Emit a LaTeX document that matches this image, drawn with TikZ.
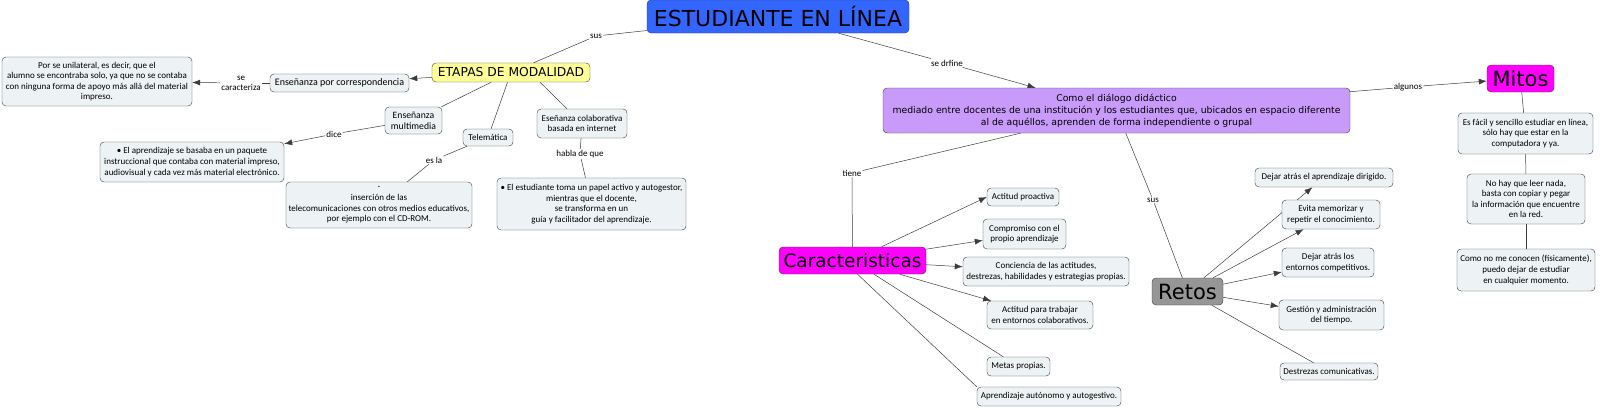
\documentclass[tikz,border=0pt]{standalone}
\usepackage{fontspec}
\setmainfont{Carlito}
\newfontfamily\verd{DejaVu Sans}
\usetikzlibrary{arrows.meta,backgrounds}

\definecolor{azul}{RGB}{51,102,255}
\definecolor{amarillo}{RGB}{255,255,153}
\definecolor{lila}{RGB}{200,155,250}
\definecolor{fucsia}{RGB}{255,0,255}
\definecolor{gris}{RGB}{150,150,150}
\definecolor{celeste}{RGB}{237,243,244}
\definecolor{borde}{RGB}{60,60,60}

\begin{document}
\begin{tikzpicture}[x=1pt,y=-1pt,
  caja/.style={draw=borde,rounded corners=4pt,align=center,inner sep=2pt},
  concepto/.style={caja,font=\verd\fontsize{21}{24}\selectfont},
  idea/.style={caja,fill=celeste,font=\fontsize{9}{10.6}\selectfont},
  enlace/.style={inner sep=1pt,align=center,font=\fontsize{9}{10}\selectfont},
  linea/.style={draw=borde,line width=0.5pt},
  flecha/.style={linea,-{Latex[length=8pt,width=6pt]}}]

\useasboundingbox (0,0) rectangle (1600,408);

% conceptos principales
\node[concepto,fill=azul,font=\verd\fontsize{22}{26}\selectfont,minimum width=262pt,minimum height=33pt] (est) at (778,16.5) {ESTUDIANTE EN LÍNEA};
\node[concepto,fill=amarillo,font=\verd\fontsize{12.3}{14}\selectfont,minimum width=158pt,minimum height=19pt] (etapas) at (511,72.5) {ETAPAS DE MODALIDAD};
\node[concepto,fill=lila,font=\verd\fontsize{9.3}{12}\selectfont,minimum width=467pt,minimum height=45pt] (dialogo) at (1116.5,110.5) {Como el diálogo didáctico\\mediado entre docentes de una institución y los estudiantes que, ubicados en espacio diferente\\al de aquéllos, aprenden de forma independiente o grupal};
\node[concepto,fill=fucsia,minimum width=67pt,minimum height=27pt] (mitos) at (1520.5,78.5) {Mitos};
\node[concepto,fill=fucsia,font=\verd\fontsize{18.5}{22}\selectfont,minimum width=147pt,minimum height=27pt] (car) at (852.5,260.5) {Caracteristicas};
\node[concepto,fill=gris,minimum width=71pt,minimum height=27pt] (retos) at (1187.5,291.5) {Retos};

% etapas
\node[idea,font=\fontsize{10}{11}\selectfont,minimum width=139pt,minimum height=18pt] (corr) at (339.5,83) {Enseñanza por correspondencia};
\node[idea,minimum width=190pt,minimum height=49pt] (porse) at (97,81.5) {Por se unilateral, es decir, que el\\alumno se encontraba solo, ya que no se contaba\\con ninguna forma de apoyo más allá del material\\impreso.};
\node[idea,font=\fontsize{9.7}{11}\selectfont,minimum width=57pt,minimum height=27pt] (multi) at (413.5,120.5) {Enseñanza\\multimedia};
\node[idea,minimum width=184pt,minimum height=40pt] (paquete) at (192,162) {• El aprendizaje se basaba en un paquete\\instruccional que contaba con material impreso,\\audiovisual y cada vez más material electrónico.};
\node[idea,minimum width=50pt,minimum height=17pt] (tele) at (488,137.5) {Telemática};
\node[idea,minimum width=186pt,minimum height=46pt] (insercion) at (379,205) {·\\inserción de las\\telecomunicaciones con otros medios educativos,\\por ejemplo con el CD-ROM.};
\node[idea,minimum width=90pt,minimum height=29pt] (colab) at (582,123.5) {Eseñanza colaborativa\\basada en internet};
\node[idea,minimum width=189pt,minimum height=52pt] (activo) at (591.5,204) {• El estudiante toma un papel activo y autogestor,\\mientras que el docente,\\se transforma en un\\guía y facilitador del aprendizaje.};

% mitos
\node[idea,minimum width=135pt,minimum height=41pt] (m1) at (1525.5,133.5) {Es fácil y sencillo estudiar en línea,\\sólo hay que estar en la\\computadora y ya.};
\node[idea,minimum width=118pt,minimum height=50pt] (m2) at (1526,199) {No hay que leer nada,\\basta con copiar y pegar\\la información que encuentre\\en la red.};
\node[idea,minimum width=138pt,minimum height=42pt] (m3) at (1526,270) {Como no me conocen (físicamente),\\puedo dejar de estudiar\\en cualquier momento.};

% caracteristicas
\node[idea,minimum width=72pt,minimum height=18pt] (c1) at (1023,197) {Actitud proactiva};
\node[idea,minimum width=83pt,minimum height=30pt] (c2) at (1024.5,234) {Compromiso con el\\propio aprendizaje};
\node[idea,minimum width=166pt,minimum height=29pt] (c3) at (1046,271.5) {Conciencia de las actitudes,\\destrezas, habilidades y estrategias propias.};
\node[idea,minimum width=106pt,minimum height=28pt] (c4) at (1040,315) {Actitud para trabajar\\en entornos colaborativos.};
\node[idea,minimum width=63pt,minimum height=19pt] (c5) at (1018.5,366.5) {Metas propias.};
\node[idea,minimum width=144pt,minimum height=19pt] (c6) at (1049,396.5) {Aprendizaje autónomo y autogestivo.};

% retos
\node[idea,minimum width=138pt,minimum height=19pt] (r1) at (1324,177.5) {Dejar atrás el aprendizaje dirigido.};
\node[idea,minimum width=98pt,minimum height=29pt] (r2) at (1331,214.5) {Evita memorizar y\\repetir el conocimiento.};
\node[idea,minimum width=92pt,minimum height=29pt] (r3) at (1328,262.5) {Dejar atrás los\\entornos competitivos.};
\node[idea,minimum width=105pt,minimum height=30pt] (r4) at (1331.5,315) {Gestión y administración\\del tiempo.};
\node[idea,minimum width=98pt,minimum height=17pt] (r5) at (1329,371.5) {Destrezas comunicativas.};

% frases de enlace
\node[enlace] (sus1) at (596,36) {sus};
\node[enlace] (drf) at (947,63) {se drfine};
\node[enlace] (lcar) at (241,83) {se\\caracteriza};
\node[enlace] (dice) at (334,134) {dice};
\node[enlace] (esla) at (434,160) {es la};
\node[enlace] (habla) at (580,154) {habla de que};
\node[enlace] (algunos) at (1408,87) {algunos};
\node[enlace] (tiene) at (852,173) {tiene};
\node[enlace] (sus2) at (1153,200) {sus};

\begin{scope}[on background layer]
\draw[linea] (est) -- (sus1);
\draw[linea] (sus1) -- (etapas);
\draw[linea] (est) -- (drf);
\draw[flecha] (drf) -- (dialogo);
\draw[flecha] (etapas) -- (corr);
\draw[linea] (corr) -- (lcar);
\draw[flecha] (lcar) -- (porse);
\draw[linea] (etapas) -- (multi);
\draw[linea] (multi) -- (dice);
\draw[flecha] (dice) -- (paquete);
\draw[linea] (etapas) -- (tele);
\draw[linea] (tele) -- (esla);
\draw[linea] (esla) -- (insercion);
\draw[linea] ([xshift=29pt]etapas.south) -- ([xshift=-15pt]colab.north);
\draw[linea] (colab) -- (habla);
\draw[linea] (habla) -- (activo);
\draw[linea] (dialogo) -- (algunos);
\draw[flecha] (algunos) -- (mitos);
\draw[linea] (mitos) -- (m1);
\draw[linea] (m1) -- (m2);
\draw[linea] (m2) -- (m3);
\draw[linea] (dialogo) -- (tiene);
\draw[linea] (tiene) -- (car);
\draw[flecha] (car) -- (c1.west);
\draw[flecha] (car) -- (c2);
\draw[flecha] (car) -- (c3);
\draw[flecha] (car) -- (c4);
\draw[linea] (car) -- (c5);
\draw[linea] ([xshift=5pt]car.south) -- (c6.north west);
\draw[linea] (dialogo) -- (sus2);
\draw[linea] (sus2) -- (retos);
\draw[flecha] (retos) -- (r1);
\draw[flecha] (retos) -- (r2);
\draw[flecha] (retos) -- (r3);
\draw[flecha] (retos) -- (r4);
\draw[linea] (retos) -- (r5);
\end{scope}

\end{tikzpicture}
\end{document}
